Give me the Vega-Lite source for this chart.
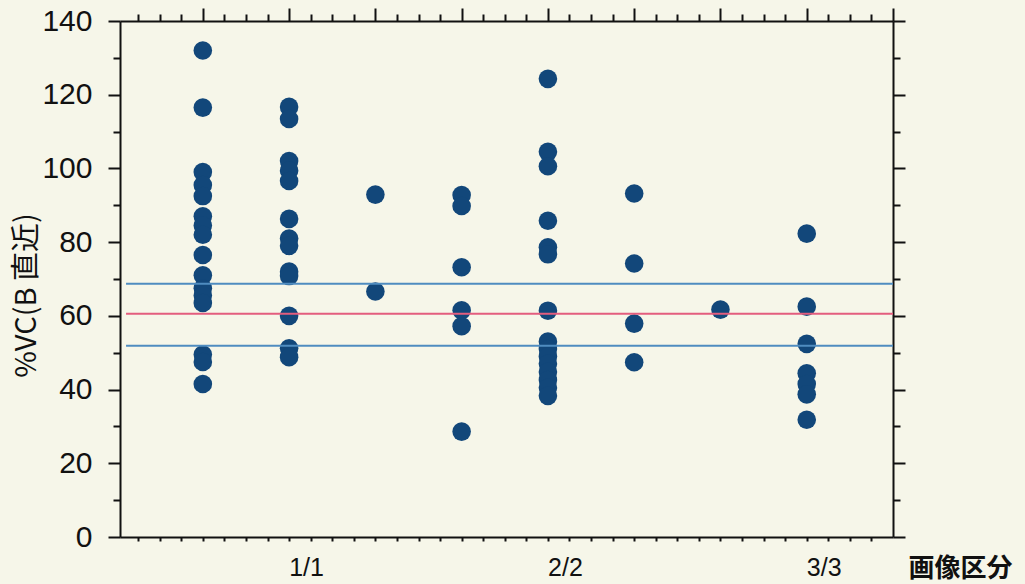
{
  "$schema": "https://vega.github.io/schema/vega-lite/v6.json",
  "width": 773,
  "height": 516,
  "autosize": {"type": "none"},
  "padding": {"left": 120, "top": 21, "right": 132, "bottom": 47},
  "background": "#f6f6e9",
  "config": {
    "view": {"stroke": null},
    "axis": {
      "domainColor": "#111111",
      "domainWidth": 2,
      "tickColor": "#111111",
      "tickWidth": 2,
      "labelColor": "#111111",
      "titleColor": "#111111",
      "grid": false,
      "labelFont": "Liberation Sans Narrow, Liberation Sans, Arial, sans-serif"
    }
  },
  "datasets": {
    "pts": [
      {"g": 1, "v": 132}, {"g": 1, "v": 116.5}, {"g": 1, "v": 99}, {"g": 1, "v": 95.5}, {"g": 1, "v": 92.5}, {"g": 1, "v": 87}, {"g": 1, "v": 84.5}, {"g": 1, "v": 82}, {"g": 1, "v": 76.5}, {"g": 1, "v": 71}, {"g": 1, "v": 67.5}, {"g": 1, "v": 65.5}, {"g": 1, "v": 63.5}, {"g": 1, "v": 49.5}, {"g": 1, "v": 47.5}, {"g": 1, "v": 41.5},
      {"g": 2, "v": 116.7}, {"g": 2, "v": 113.4}, {"g": 2, "v": 102}, {"g": 2, "v": 99.4}, {"g": 2, "v": 96.6}, {"g": 2, "v": 86.3}, {"g": 2, "v": 81}, {"g": 2, "v": 79}, {"g": 2, "v": 72}, {"g": 2, "v": 70.8}, {"g": 2, "v": 60}, {"g": 2, "v": 51.2}, {"g": 2, "v": 48.8},
      {"g": 3, "v": 92.9}, {"g": 3, "v": 66.6},
      {"g": 4, "v": 92.8}, {"g": 4, "v": 89.8}, {"g": 4, "v": 73.2}, {"g": 4, "v": 61.5}, {"g": 4, "v": 57.2}, {"g": 4, "v": 28.6},
      {"g": 5, "v": 124.3}, {"g": 5, "v": 104.5}, {"g": 5, "v": 100.6}, {"g": 5, "v": 85.8}, {"g": 5, "v": 78.6}, {"g": 5, "v": 76.7}, {"g": 5, "v": 61.4}, {"g": 5, "v": 53}, {"g": 5, "v": 51}, {"g": 5, "v": 49}, {"g": 5, "v": 47}, {"g": 5, "v": 44.8}, {"g": 5, "v": 42.6}, {"g": 5, "v": 40.5}, {"g": 5, "v": 38.3},
      {"g": 6, "v": 93.2}, {"g": 6, "v": 74.2}, {"g": 6, "v": 57.9}, {"g": 6, "v": 47.4},
      {"g": 7, "v": 61.7},
      {"g": 8, "v": 82.3}, {"g": 8, "v": 62.5}, {"g": 8, "v": 52.4}, {"g": 8, "v": 44.4}, {"g": 8, "v": 41.5}, {"g": 8, "v": 38.7}, {"g": 8, "v": 31.8}
    ],
    "refs": [
      {"y": 68.7, "kind": "upper"},
      {"y": 60.6, "kind": "mean"},
      {"y": 51.9, "kind": "lower"}
    ]
  },
  "layer": [
    {
      "data": {"name": "pts"},
      "mark": {"type": "circle", "size": 346, "opacity": 1, "color": "#12477a"},
      "encoding": {
        "x": {
          "field": "g",
          "type": "quantitative",
          "scale": {"domain": [0.04, 9], "nice": false, "zero": false},
          "axis": {
            "orient": "bottom",
            "values": [0.25, 0.5, 0.75, 1, 1.25, 1.5, 1.75, 2, 2.25, 2.5, 2.75, 3, 3.25, 3.5, 3.75, 4, 4.25, 4.5, 4.75, 5, 5.25, 5.5, 5.75, 6, 6.25, 6.5, 6.75, 7, 7.25, 7.5, 7.75, 8, 8.25, 8.5, 8.75],
            "tickSize": 4,
            "labelExpr": "datum.value === 2 ? '1/1' : datum.value === 5 ? '2/2' : datum.value === 8 ? '3/3' : ''",
            "labelOffset": 17,
            "labelPadding": 14,
            "labelFontSize": 25,
            "labelFlush": false,
            "labelOverlap": false,
            "labelBound": false,
            "title": "画像区分",
            "titleFont": "Noto Sans CJK JP",
            "titleFontSize": 26,
            "titleFontWeight": "bold",
            "titleX": 840,
            "titleY": 31,
            "titleAlign": "center",
            "titleBaseline": "middle"
          }
        },
        "y": {
          "field": "v",
          "type": "quantitative",
          "scale": {"domain": [0, 140], "nice": false},
          "axis": {
            "orient": "left",
            "values": [0, 10, 20, 30, 40, 50, 60, 70, 80, 90, 100, 110, 120, 130, 140],
            "tickSize": {"condition": {"test": "datum.value % 20 === 0", "value": 12}, "value": 7},
            "labelExpr": "datum.value % 20 === 0 ? datum.label : ''",
            "labelFontSize": 30,
            "labelPadding": 16,
            "labelFlush": false,
            "labelOverlap": false,
            "title": "%VC(B 直近)",
            "titleFont": "Noto Sans CJK JP",
            "titleFontSize": 29,
            "titleFontWeight": "normal",
            "titleAngle": -90,
            "titleX": -94,
            "titleY": 274,
            "titleAlign": "center",
            "titleBaseline": "middle"
          }
        }
      }
    },
    {
      "data": {"name": "refs"},
      "mark": {"type": "rule", "strokeWidth": 2},
      "encoding": {
        "x": {
          "datum": 0.11,
          "type": "quantitative",
          "scale": {"domain": [0.04, 9], "nice": false, "zero": false},
          "axis": {
            "orient": "top",
            "values": [0.25, 0.5, 0.75, 1, 1.25, 1.5, 1.75, 2, 2.25, 2.5, 2.75, 3, 3.25, 3.5, 3.75, 4, 4.25, 4.5, 4.75, 5, 5.25, 5.5, 5.75, 6, 6.25, 6.5, 6.75, 7, 7.25, 7.5, 7.75, 8, 8.25, 8.5, 8.75, 9],
            "tickSize": {"condition": {"test": "datum.value % 1 === 0", "value": 13}, "value": 7},
            "labels": false,
            "title": null
          }
        },
        "x2": {"datum": 9},
        "y": {
          "field": "y",
          "type": "quantitative",
          "scale": {"domain": [0, 140], "nice": false},
          "axis": {
            "orient": "right",
            "values": [0, 10, 20, 30, 40, 50, 60, 70, 80, 90, 100, 110, 120, 130, 140],
            "tickSize": {"condition": {"test": "datum.value % 20 === 0", "value": 12}, "value": 7},
            "labels": false,
            "title": null
          }
        },
        "color": {
          "field": "kind",
          "type": "nominal",
          "scale": {"domain": ["upper", "mean", "lower"], "range": ["#4f8cc0", "#e35d7e", "#4f8cc0"]},
          "legend": null
        }
      }
    }
  ],
  "resolve": {"axis": {"x": "independent", "y": "independent"}}
}
